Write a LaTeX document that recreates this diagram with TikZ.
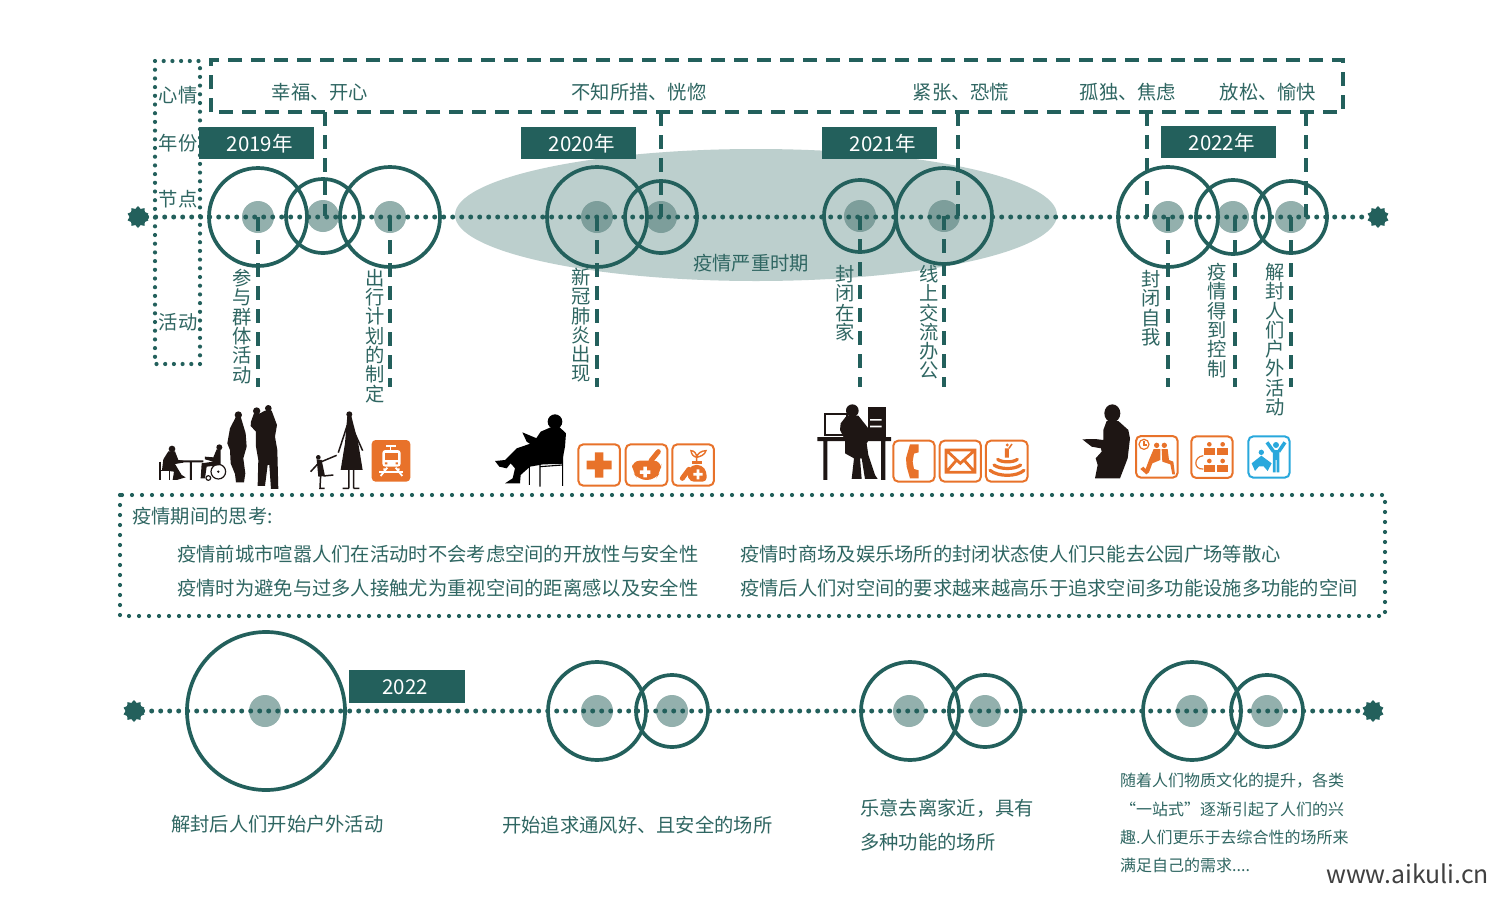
\documentclass[tikz,border=0pt]{standalone}
\usepackage{fontspec}
\setmainfont{Noto Sans CJK SC}
\usetikzlibrary{shapes.geometric}
\definecolor{teal1}{HTML}{23605C}
\definecolor{txt}{HTML}{2F6662}
\definecolor{inn}{HTML}{93B0AD}
\definecolor{inn2}{HTML}{7D9E9B}
\definecolor{ell}{HTML}{BCCFCD}
\definecolor{org}{HTML}{E8722A}
\definecolor{blu}{HTML}{29A8DC}
\definecolor{sil}{HTML}{1E1614}
\tikzset{
 ring/.style={circle,draw=teal1,line width=3.7pt,inner sep=0pt,minimum size=#1},
 dotinner/.style={circle,fill=inn,inner sep=0pt,minimum size=32pt},
 dotinnerb/.style={circle,fill=inn2,inner sep=0pt,minimum size=32pt},
 dotline/.style={draw=teal1,line width=5pt,line cap=round,dash pattern=on 0pt off 9pt},
 dotframe/.style={draw=teal1,line width=4.2pt,line cap=round,dash pattern=on 0pt off #1},
 dashline/.style={draw=teal1,line width=4.5pt,dash pattern=on 14pt off 9pt},
 yearbox/.style={fill=teal1,text=white,minimum width=115pt,minimum height=32pt,inner sep=0pt,font=\fontsize{20.5}{24}\selectfont},
 lab/.style={text=txt,inner sep=0pt,font=\fontsize{19.3}{24}\selectfont},
 vlab/.style={text=txt,inner sep=0pt,anchor=north,align=center,font=\fontsize{19.3}{19.3}\selectfont},
 small/.style={text=txt,inner sep=0pt,anchor=west,font=\fontsize{16}{20}\selectfont},
 endgear/.style={star,star points=10,star point ratio=1.3,fill=teal1,inner sep=0pt,minimum size=22pt},
 iconb/.style={draw=org,line width=2pt,rounded corners=5pt,fill=white},
 sicon/.style={shift={#1},x=0.3333pt,y=-0.3333pt},
}
\newcommand{\ibox}[4]{\draw[iconb] (#1,#2) rectangle (#3,#4);}
\newcommand{\fwc}{\symbol{"FF0C}}
\begin{document}
\begin{tikzpicture}[x=1pt,y=-1pt]
\useasboundingbox (0,0) rectangle (1500,900);
\fill[white] (0,0) rectangle (1500,900);
% ellipse
\node[ellipse,fill=ell,minimum width=602pt,minimum height=132pt,inner sep=0pt] (sev) at (756,215) {};
% inner dots
\node[dotinner] at (258,217) {};\node[dotinner] at (323,216) {};\node[dotinner] at (390,217) {};
\node[dotinnerb] at (597,217) {};\node[dotinnerb] at (661,217) {};
\node[dotinnerb] at (860,216) {};\node[dotinnerb] at (944,216) {};
\node[dotinner] at (1168,217) {};\node[dotinner] at (1233,217) {};\node[dotinner] at (1291,217) {};
% end gears
\node[endgear] (gl) at (138,217) {};
\node[endgear] (gr) at (1378,217) {};
\draw[dotline] (gl) -- (gr);
% rings
\node[ring=98pt] (c1) at (258,217) {};
\node[ring=74pt] (c2) at (323,216) {};
\node[ring=100pt] (c3) at (390,217) {};
\node[ring=100pt] (c4) at (597,217) {};
\node[ring=72pt] (c5) at (661,217) {};
\node[ring=72pt] (c6) at (860,216) {};
\node[ring=96pt] (c7) at (944,216) {};
\node[ring=100pt] (c8) at (1168,217) {};
\node[ring=74pt] (c9) at (1233,217) {};
\node[ring=72pt] (c10) at (1291,217) {};
% frames
\draw[dashline] (211,112) -- (211,60) -- (1343,60) -- (1343,112) -- cycle;
\draw[dotframe=8.7pt] (155,61) rectangle (200,364);
% year boxes
\node[yearbox,anchor=north west] (y19) at (199,127) {\hspace*{6pt}2019年};
\node[yearbox,anchor=north west] (y20) at (521,127) {\hspace*{6pt}2020年};
\node[yearbox,anchor=north west] (y21) at (822,127) {\hspace*{6pt}2021年};
\node[yearbox,anchor=north west] (y22) at (1161,126) {\hspace*{6pt}2022年};
% connector ends
\foreach \n/\x in {u2/325,u5/661,u7/958,u8/1147,u10/1306}{\coordinate (\n) at (\x,112);}
\foreach \n/\x in {d1/258,d3/390,d4/597,d6/860,d7/944,d8/1168,d9/1235,d10/1291}{\coordinate (\n) at (\x,387);}
\draw[dashline] (u2) -- (325,216);
\draw[dashline] (u5) -- (c5.center);
\draw[dashline] (u7) -- (958,216);
\draw[dashline] (u8) -- (1147,217);
\draw[dashline] (u10) -- (1306,217);
\draw[dashline] (c1.center) -- (d1);
\draw[dashline] (c3.center) -- (d3);
\draw[dashline] (c4.center) -- (d4);
\draw[dashline] (c6.center) -- (d6);
\draw[dashline] (c7.center) -- (d7);
\draw[dashline] (c8.center) -- (d8);
\draw[dashline] (1235,217) -- (d9);
\draw[dashline] (c10.center) -- (d10);
% row labels
\node[lab] (r1) at (178,95) {心情};
\node[lab] (r2) at (178,143) {年份};
\node[lab] (r3) at (178,199) {节点};
\node[lab] (r4) at (178,322) {活动};
% mood labels
\node[lab] (m1) at (320,92) {幸福、开心};
\node[lab] (m2) at (639,92) {不知所措、恍惚};
\node[lab] (m3) at (961,92) {紧张、恐慌};
\node[lab] (m4) at (1128,92) {孤独、焦虑};
\node[lab] (m5) at (1268,92) {放松、愉快};
\node[lab] (sevl) at (751,263) {疫情严重时期};
% vertical labels
\node[vlab] (v1) at (242,269) {参\\与\\群\\体\\活\\动};
\node[vlab] (v2) at (375,269) {出\\行\\计\\划\\的\\制\\定};
\node[vlab] (v3) at (581,268) {新\\冠\\肺\\炎\\出\\现};
\node[vlab] (v4) at (845,265) {封\\闭\\在\\家};
\node[vlab] (v5) at (929,265) {线\\上\\交\\流\\办\\公};
\node[vlab] (v6) at (1151,270) {封\\闭\\自\\我};
\node[vlab] (v7) at (1217,263) {疫\\情\\得\\到\\控\\制};
\node[vlab] (v8) at (1275,263) {解\\封\\人\\们\\户\\外\\活\\动};
% --- silhouettes group 1
\begin{scope}[sicon={(150,400)}]
 \fill[sil] (66,147) circle (10);
 \fill[sil] (55,154)--(75,154)--(85,180)--(100,182)--(100,188)--(75,192)--(95,225)--(107,232)--(80,240)--(68,240)--(72,215)--(50,212)--(36,210)--(40,178)--cycle;
 \draw[sil,line width=1.4pt] (30,185)--(30,240) (30,212)--(58,212)--(58,240);
 \fill[sil] (78,181) rectangle (160,187) (120,185) rectangle (126,240);
 \fill[sil] (208,142) circle (9);
 \fill[sil] (200,148)--(212,150)--(212,195)--(170,200)--(165,235)--(152,235)--(155,190)--(190,185)--(165,178)--(165,170)--(190,172)--cycle;
 \draw[sil,line width=1.2pt] (205,215) circle (22) (175,234) circle (7);
 \fill[sil] (205,215) circle (4);
 \fill[sil] (265,45) circle (11);
 \fill[sil] (258,50)--(272,50)--(287,100)--(290,140)--(280,175)--(286,220)--(282,247)--(258,247)--(255,222)--(242,190)--(240,150)--(232,130)--(240,85)--cycle;
 \fill[sil] (320,33) circle (11) (355,25) circle (10);
 \fill[sil] (303,65)--(312,40)--(330,40)--(345,32)--(365,32)--(381,75)--(375,110)--(382,150)--(385,267)--(363,267)--(358,195)--(353,195)--(345,258)--(323,258)--(325,180)--(318,140)--(318,95)--(302,78)--cycle;
 % woman and child
 \fill[sil] (598,43) circle (9);
 \fill[sil] (592,48)--(604,48)--(625,130)--(638,210)--(572,210)--(585,130)--cycle;
 \draw[sil,line width=1.5pt] (592,75)--(565,158) (608,85)--(638,152) (597,210)--(597,265) (611,210)--(611,265) (578,265)--(597,265) (611,265)--(628,265);
 \fill[sil] (505,172) circle (7);
 \fill[sil] (500,178)--(515,180)--(525,228)--(505,230)--cycle;
 \draw[sil,line width=1.5pt] (512,186)--(560,166) (505,190)--(482,215) (512,226)--(510,265)--(524,265) (520,228)--(550,225);
 % train icon
 \fill[org,rounded corners=4pt] (665,120) rectangle (781,245);
 \fill[white] (707,135) rectangle (737,142);
 \draw[white,line width=1.2pt] (722,142)--(722,150);
 \fill[white,rounded corners=3pt] (697,150) rectangle (752,200);
 \fill[org] (705,160) rectangle (744,180);
 \fill[org] (705,187) rectangle (712,193) (737,187) rectangle (744,193);
 \fill[white] (700,205) rectangle (707,211) (742,205) rectangle (749,211);
 \fill[white] (688,214) rectangle (760,219);
 \draw[white,line width=1.8pt] (712,203)--(692,228) (737,203)--(757,228);
\end{scope}
% --- group 2
\begin{scope}[sicon={(490,400)}]
 \fill[black] (195,65) circle (22);
 \fill[black] (182,82)--(205,78)--(228,100)--(225,140)--(215,192)--(160,193)--(120,200)--(92,225)--(90,250)--(45,250)--(68,235)--(75,205)--(62,190)--(50,205)--(28,200)--(15,183)--(45,180)--(80,145)--(130,128)--(152,95)--cycle;
 \fill[black] (97,97)--(145,117)--(125,135)--(110,125)--cycle;
 \draw[black,line width=1.1pt] (118,190)--(118,255) (150,195)--(150,260) (150,200)--(218,195) (218,150)--(218,258);
 \ibox{265}{133}{390}{257}
 \fill[org] (315,157) rectangle (340,233) (290,182) rectangle (365,208);
 \ibox{407}{133}{532}{257}
 \fill[org,rounded corners=8pt] (425,182)--(515,182)--(512,215)--(495,240)--(445,240)--(428,215)--cycle;
 \draw[org,line width=5pt,line cap=round] (483,182)--(505,155);
 \fill[white] (460,200) rectangle (471,232) (450,211) rectangle (481,222);
 \ibox{547}{133}{672}{257}
 \fill[org] (605,183) rectangle (635,193);
 \fill[org,rounded corners=4pt] (605,195)--(635,195)--(650,215)--(650,245)--(600,245)--(590,220)--cycle;
 \draw[org,line width=1.4pt] (620,185)--(620,172) (620,172) .. controls (610,170) and (604,162) .. (603,152) .. controls (612,152) and (620,160) .. (620,172) (620,172) .. controls (630,170) and (645,165) .. (648,152) .. controls (635,152) and (622,160) .. (620,172);
 \draw[org,line width=5pt,line cap=round] (577,235)--(597,208);
 \fill[white] (620,208) rectangle (628,238) (610,219) rectangle (638,227);
\end{scope}
% --- group 3
\begin{scope}[sicon={(810,395)}]
 \draw[sil,line width=2.2pt] (44,57) rectangle (110,120);
 \fill[sil] (22,126) rectangle (243,138) (40,138) rectangle (52,255) (213,138) rectangle (226,255);
 \fill[sil] (175,35) rectangle (229,130);
 \fill[white] (180,72) rectangle (215,77) (180,92) rectangle (215,97);
 \fill[sil] (127,47) circle (19);
 \fill[sil] (110,62)--(145,62)--(175,100)--(185,122)--(170,145)--(175,180)--(195,240)--(203,252)--(165,252)--(155,190)--(150,190)--(155,252)--(125,252)--(132,190)--(105,175)--(105,135)--(90,105)--(92,85)--cycle;
 \ibox{250}{137}{374}{260}
 \fill[org] (300,148)--(326,148)--(326,172)--(312,176)--(308,200)--(312,222)--(326,226)--(326,250)--(300,250)--(290,215)--(288,190)--cycle;
 \ibox{389}{137}{513}{260}
 \draw[org,line width=2.8pt] (408,165) rectangle (495,232) (408,165)--(451,205)--(495,165) (408,232)--(440,195) (495,232)--(462,195);
 \ibox{528}{137}{653}{260}
 \fill[org] (592,150) circle (5) (585,160) rectangle (597,188);
 \draw[org,line width=1.5pt] (597,160)--(606,147);
 \draw[org,line width=3.2pt,line cap=round] (563,193) .. controls (575,203) and (610,203) .. (622,193);
 \draw[org,line width=3.2pt,line cap=round] (552,210) .. controls (570,224) and (615,224) .. (632,210);
 \draw[org,line width=3.2pt,line cap=round] (540,226) .. controls (565,246) and (620,246) .. (642,226);
\end{scope}
% --- group 4
\begin{scope}[sicon={(1075,395)}]
 \fill[sil] (112,55) ellipse (24 and 27);
 \fill[sil] (95,78)--(130,78)--(160,105)--(165,130)--(158,190)--(135,250)--(60,250)--(68,210)--(62,190)--(80,170)--(78,160)--(50,155)--(22,133)--(60,132)--(85,135)--(85,105)--cycle;
 \ibox{183}{123}{308}{248}
 \draw[org,line width=1.2pt] (207,148) circle (15);
 \draw[org,line width=1.2pt] (207,138)--(207,150)--(216,150);
 \fill[org] (245,151) circle (8) (268,151) circle (8);
 \fill[org] (236,162)--(256,162)--(256,195)--(232,205)--(222,232)--(214,238)--(196,222)--(205,215)--(212,222)--(222,195)--cycle;
 \fill[org] (260,162)--(278,162)--(282,195)--(295,200)--(300,238)--(292,238)--(286,208)--(262,200)--cycle;
 \ibox{349}{124}{473}{249}
 \foreach \a/\b in {403/172,443/172,403/222,443/222}{
  \fill[org] (\a,\b-24) circle (7);
  \fill[org] (\a-17,\b-13) rectangle (\a+17,\b+8);
 }
 \draw[org,line width=1.2pt] (385,182) .. controls (355,185) and (355,225) .. (385,222);
 \draw[blu,line width=2pt,rounded corners=5pt,fill=white] (520,124) rectangle (644,248);
 \fill[blu] (603,150) circle (9) (559,172) circle (8);
 \fill[blu] (594,165) rectangle (613,195) (594,195) rectangle (602,232) (605,195) rectangle (613,232);
 \draw[blu,line width=3.5pt] (596,170)--(576,142) (611,170)--(630,142);
 \fill[blu] (559,182)--(590,205)--(578,228)--(566,214)--(552,214)--(540,228)--(530,205)--cycle;
\end{scope}
% middle box
\draw[dotframe=10pt] (120,495) rectangle (1385,616);
\node[lab,anchor=west] (t0) at (132,516) {疫情期间的思考:};
\node[lab,anchor=west] (t1) at (177,554) {疫情前城市喧嚣人们在活动时不会考虑空间的开放性与安全性};
\node[lab,anchor=west] (t2) at (177,588) {疫情时为避免与过多人接触尤为重视空间的距离感以及安全性};
\node[lab,anchor=west] (t3) at (740,554) {疫情时商场及娱乐场所的封闭状态使人们只能去公园广场等散心};
\node[lab,anchor=west] (t4) at (740,588) {疫情后人们对空间的要求越来越高乐于追求空间多功能设施多功能的空间};
% bottom timeline
\foreach \x in {265,597,672,909,985,1192,1267}{\node[dotinner] at (\x,711) {};}
\node[endgear] (bl) at (134,711) {};
\node[endgear] (br) at (1373,711) {};
\draw[dotline] (bl) -- (br);
\node[ring=158pt] (b1) at (266,711) {};
\node[ring=98pt] (b2) at (597,711) {};
\node[ring=72pt] (b3) at (672,711) {};
\node[ring=98pt] (b4) at (910,711) {};
\node[ring=72pt] (b5) at (985,711) {};
\node[ring=98pt] (b6) at (1192,711) {};
\node[ring=72pt] (b7) at (1267,711) {};
\node[yearbox,anchor=north west,minimum width=116pt,minimum height=33pt] (y22b) at (349,670) {\hspace*{-4pt}2022};
% bottom text
\node[lab,anchor=west] (e1) at (171,824) {解封后人们开始户外活动};
\node[lab,anchor=west] (e2) at (502,825) {开始追求通风好、且安全的场所};
\node[lab,anchor=west] (e3) at (860,808) {乐意去离家近\fwc{}具有};
\node[lab,anchor=west] (e4) at (860,842) {多种功能的场所};
\node[small] (s1) at (1120,781) {随着人们物质文化的提升\fwc{}各类};
\node[small] (s2) at (1120,809) {“一站式”逐渐引起了人们的兴};
\node[small] (s3) at (1120,837) {趣.人们更乐于去综合性的场所来};
\node[small] (s4) at (1120,865) {满足自己的需求....};
\node[inner sep=0pt,anchor=west,text=black!75,font=\fontsize{24.8}{28}\selectfont] (wm) at (1326,874) {www.aikuli.cn};
\end{tikzpicture}
\end{document}
